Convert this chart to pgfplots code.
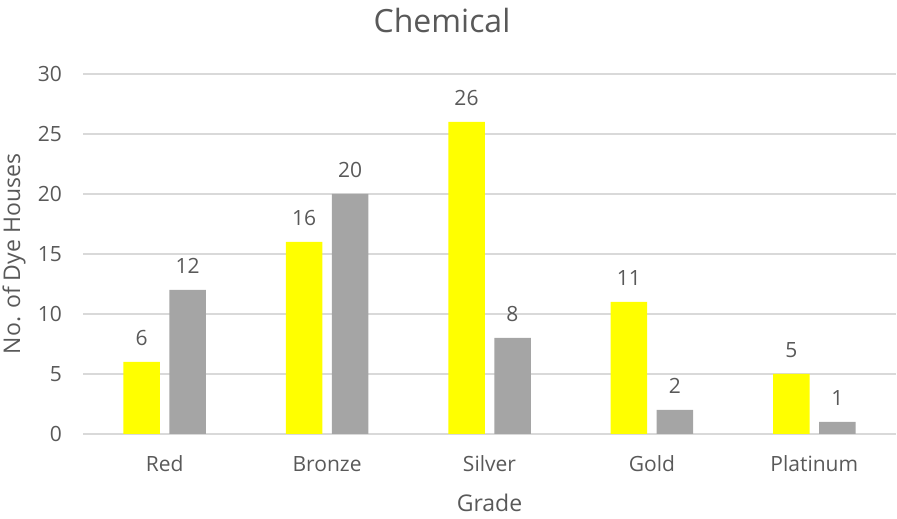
\documentclass[border=0pt]{standalone}
\usepackage{fontspec}
\setmainfont{Open Sans}
\usepackage{pgfplots}
\pgfplotsset{compat=1.18}
\definecolor{gridgray}{HTML}{D9D9D9}
\definecolor{txt}{HTML}{595959}
\definecolor{barY}{HTML}{FFFF00}
\definecolor{barG}{HTML}{A5A5A5}
\begin{document}
\begin{tikzpicture}
\begin{axis}[
  scale only axis, width=812pt, height=360pt,
  xmin=-0.5, xmax=4.5, ymin=0, ymax=30,
  xtick={0,...,4}, xticklabels={Red,Bronze,Silver,Gold,Platinum},
  ytick={0,5,...,30},
  separate axis lines,
  axis x line*=bottom, axis y line*=left,
  y axis line style={draw=none},
  x axis line style={draw=gridgray, line width=1.3pt},
  major tick length=0pt,
  ymajorgrids, grid style={draw=gridgray, line width=1.3pt},
  /pgf/number format/assume math mode=true,
  tick label style={font=\fontsize{21}{24}\selectfont, text=txt, inner sep=0pt},
  yticklabel style={anchor=east, xshift=-21.5pt},
  xticklabel style={anchor=center, yshift=-30pt},
  title={Chemical},
  title style={at={(axis description cs:0.4415,1.131)}, anchor=center,
    font=\fontsize{32}{36}\selectfont, text=txt},
  xlabel={Grade},
  xlabel style={at={(axis description cs:0.5,-0.192)}, anchor=center,
    font=\fontsize{23}{26}\selectfont, text=txt},
  ylabel={No. of Dye Houses},
  ylabel style={at={(axis description cs:-0.0856,0.5)}, anchor=center, rotate=0,
    font=\fontsize{23}{26}\selectfont, text=txt},
]
% yellow series
\addplot[ybar, bar width=36.5pt, bar shift=-23pt, fill=barY, draw=none,
  nodes near coords,
  nodes near coords style={font=\fontsize{21}{24}\selectfont, text=txt,
    anchor=center, xshift=-23pt, yshift=24pt}]
  coordinates {(0,6) (1,16) (2,26) (3,11) (4,5)};
% grey series
\addplot[ybar, bar width=36.5pt, bar shift=23pt, fill=barG, draw=none,
  nodes near coords,
  nodes near coords style={font=\fontsize{21}{24}\selectfont, text=txt,
    anchor=center, xshift=23pt, yshift=24pt}]
  coordinates {(0,12) (1,20) (2,8) (3,2) (4,1)};
\end{axis}
\pgfresetboundingbox
\path (-83.5pt,-85pt) rectangle (813.5pt,434pt);
\end{tikzpicture}
\end{document}
